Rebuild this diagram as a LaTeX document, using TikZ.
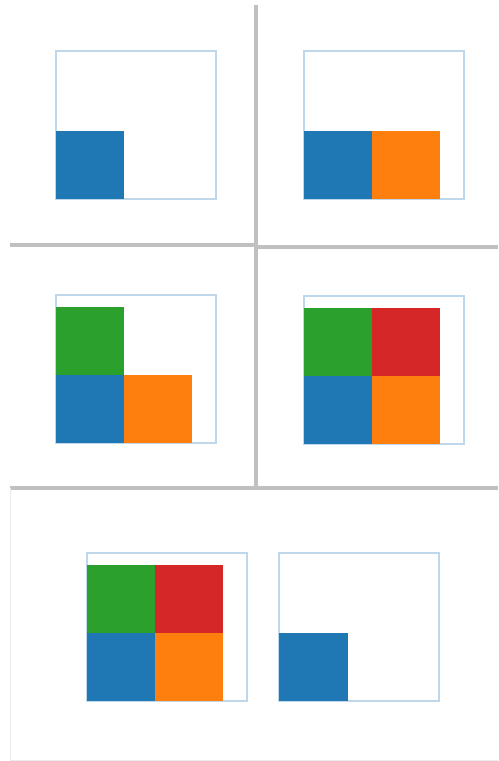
\documentclass[tikz,border=0pt]{standalone}
\usepackage{tikz}
\usepackage{xcolor}
\definecolor{tabblue}{HTML}{1F77B4}
\definecolor{taborange}{HTML}{FF7F0E}
\definecolor{tabgreen}{HTML}{2CA02C}
\definecolor{tabred}{HTML}{D62728}
\definecolor{framecolor}{RGB}{190,215,235}
\definecolor{sepcolor}{RGB}{192,192,192}

\begin{document}
\begin{tikzpicture}[
    x=0.03cm, y=-0.03cm,
    frame/.style={draw=framecolor, line width=0.9pt},
    sep/.style={draw=sepcolor, line width=3.2pt},
    outline/.style={draw=black!8, line width=0.8pt},
    blue cell/.style={fill=tabblue},
    orange cell/.style={fill=taborange},
    green cell/.style={fill=tabgreen},
    red cell/.style={fill=tabred}
]
\useasboundingbox (0,0) rectangle (498,761);

\draw[sep] (256,5) -- (256,488);
\draw[sep] (10,245) -- (256,245);
\draw[sep] (256,247) -- (498,247);
\draw[sep] (10,488) -- (498,488);
\draw[outline] (10,488) -- (10,760) -- (498,760);

\draw[frame] (56,51) rectangle (216,199);
\fill[blue cell] (56,131) rectangle (124,199);

\draw[frame] (304,51) rectangle (464,199);
\fill[blue cell] (304,131) rectangle (372,199);
\fill[orange cell] (372,131) rectangle (440,199);

\draw[frame] (56,295) rectangle (216,443);
\fill[green cell] (56,307) rectangle (124,375);
\fill[blue cell] (56,375) rectangle (124,443);
\fill[orange cell] (124,375) rectangle (192,443);

\draw[frame] (304,296) rectangle (464,444);
\fill[green cell] (304,308) rectangle (372,376);
\fill[red cell] (372,308) rectangle (440,376);
\fill[blue cell] (304,376) rectangle (372,444);
\fill[orange cell] (372,376) rectangle (440,444);

\draw[frame] (87,553) rectangle (247,701);
\fill[green cell] (87,565) rectangle (155,633);
\fill[red cell] (155,565) rectangle (223,633);
\fill[blue cell] (87,633) rectangle (155,701);
\fill[orange cell] (155,633) rectangle (223,701);

\draw[frame] (279,553) rectangle (439,701);
\fill[blue cell] (279,633) rectangle (348,701);
\end{tikzpicture}
\end{document}
